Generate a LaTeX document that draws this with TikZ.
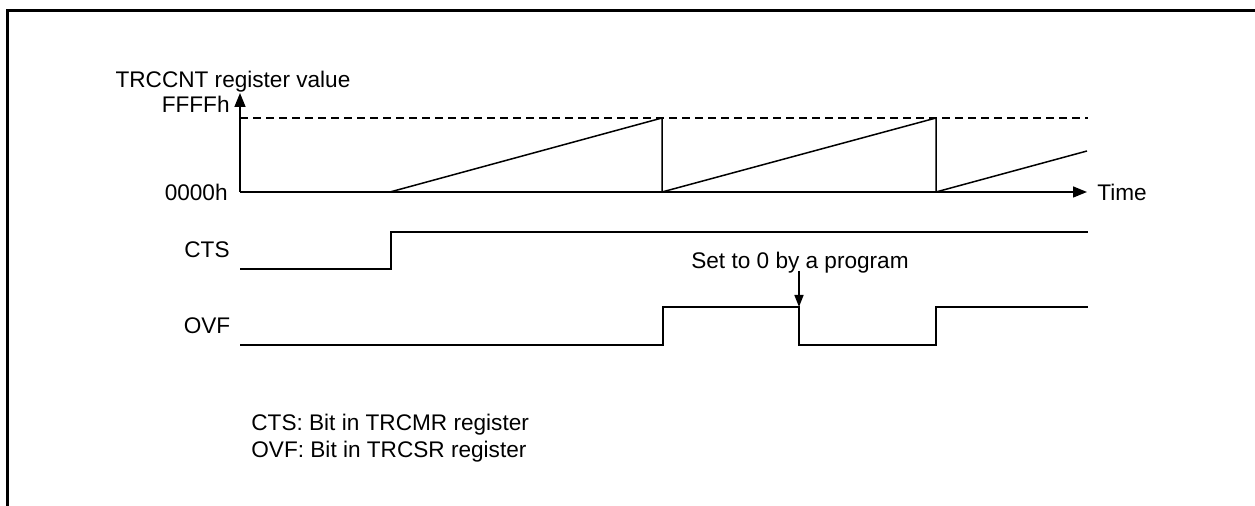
\documentclass[tikz,border=0pt]{standalone}
\usepackage{fontspec}
\setmainfont{Liberation Sans}
\usetikzlibrary{arrows.meta,positioning}

\tikzset{
  sig/.style={line width=0.75pt},
  lbl/.style={font=\fontsize{11.3}{13.5}\selectfont, inner sep=1pt},
  axisarrow/.style={line width=0.75pt, -{Triangle[length=7pt,width=5.5pt]}}
}

\begin{document}
\begin{tikzpicture}[x=0.5pt, y=-0.5pt]
  \useasboundingbox (0,0) rectangle (1255,506);

  % Frame (top and left edges only)
  \draw[line width=1.5pt] (7,506) -- (7,11) -- (1255,11);

  % Axes
  \coordinate (origin) at (240,192);
  \coordinate (ytop) at (240,93);
  \coordinate (xend) at (1087,192);
  \draw[axisarrow] (origin) -- (ytop);
  \draw[axisarrow] (origin) -- (xend);
  \node[lbl, right=4pt of xend] (timelbl) {Time};
  \node[lbl, anchor=center] (ylbl) at (233,82) {TRCCNT register value};
  \node[lbl, anchor=east] (ffff) at (232,104) {FFFFh};
  \node[lbl, anchor=east] (zero) at (230,192) {0000h};

  % FFFFh level
  \draw[line width=1.2pt, dash pattern=on 4pt off 2.5pt] (240,118) -- (1088,118);

  % Counter ramps
  \draw[sig] (390,192) -- (662,118) -- (662,192)
             -- (936,118) -- (936,192) -- (1087,151);

  % CTS
  \node[lbl] (ctslbl) at (207,250) {CTS};
  \draw[sig] (240,269) -- (391,269) -- (391,232) -- (1088,232);

  % OVF
  \node[lbl] (ovflbl) at (207,326) {OVF};
  \coordinate (fall) at (799,307);
  \draw[sig] (240,345) -- (663,345) -- (663,307) -- (fall)
             -- (799,345) -- (936,345) -- (936,307) -- (1088,307);

  % Cleared by software
  \node[lbl] (setlbl) at (800,263) {Set to 0 by a program};
  \draw[line width=0.75pt, -{Triangle[length=6pt,width=4.5pt]}] (setlbl.south -| fall) ++(0,-5) -- (fall);

  % Notes
  \node[lbl, anchor=west, align=left] (notes) at (249,438)
    {CTS: Bit in TRCMR register\\OVF: Bit in TRCSR register};
\end{tikzpicture}
\end{document}
